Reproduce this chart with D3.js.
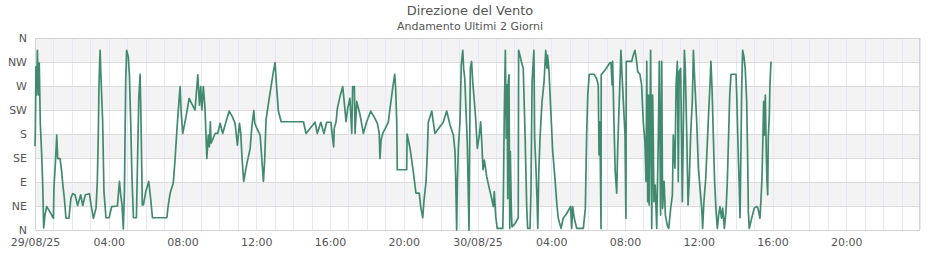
<!DOCTYPE html>
<html><head><meta charset="utf-8">
<script src="https://cdn.jsdelivr.net/npm/d3@7/dist/d3.min.js"></script>
<style>
html,body{margin:0;padding:0;background:#fff;}
svg{display:block;font-family:"DejaVu Sans",sans-serif;}
</style></head>
<body><svg id="c" width="940" height="260"></svg>
<script>
const chartTitle = "Direzione del Vento";
const chartSubtitle = "Andamento Ultimi 2 Giorni";
const startDate = "2025-08-29T00:00:00";
const spanHours = 48;
const yTickLabels = ["N","NE","E","SE","S","SW","W","NW","N"];
// hours since 29/08/25 00:00
const hours = [0,0.02,0.05,0.09,0.13,0.16,0.2,0.23,0.29,0.36,0.42,0.47,0.54,0.63,0.81,1.0,1.03,1.1,1.18,1.23,1.36,1.45,1.5,1.59,1.68,1.84,1.95,2.04,2.17,2.31,2.48,2.59,2.73,2.95,3.04,3.17,3.31,3.38,3.44,3.47,3.53,3.58,3.67,3.74,3.85,4.02,4.16,4.47,4.58,4.65,4.72,4.79,4.85,4.92,4.97,5.06,5.12,5.19,5.26,5.34,5.5,5.54,5.63,5.7,5.73,5.77,5.82,5.88,6.01,6.17,6.28,6.37,7.15,7.23,7.33,7.5,7.6,7.69,7.78,7.87,7.92,8.01,8.19,8.36,8.5,8.68,8.83,8.92,8.99,9.05,9.13,9.22,9.32,9.4,9.46,9.51,9.55,9.77,9.91,10.04,10.18,10.36,10.53,10.71,10.85,10.98,11.09,11.16,11.23,11.32,11.48,11.67,11.77,11.87,11.92,12.03,12.21,12.3,12.39,12.46,12.53,12.66,12.79,12.93,13.02,13.11,13.2,13.35,14.56,14.7,15.19,15.31,15.5,15.67,15.82,16.05,16.15,16.2,16.23,16.33,16.4,16.54,16.69,16.78,16.87,16.96,17.08,17.18,17.23,17.32,17.36,17.45,17.63,17.81,17.99,18.21,18.39,18.57,18.67,18.71,18.77,18.86,19.16,19.29,19.4,19.51,19.56,19.62,19.65,20.16,20.18,20.34,20.52,20.66,20.84,20.92,21.03,21.1,21.21,21.28,21.33,21.52,21.69,22.14,22.33,22.51,22.69,22.78,22.82,22.87,22.91,22.96,23.05,23.12,23.2,23.25,23.31,23.38,23.45,23.54,23.61,23.68,23.74,23.83,23.9,23.99,24.1,24.17,24.24,24.3,24.37,24.5,24.64,24.77,24.86,24.91,24.99,25.07,25.37,25.4,25.45,25.51,25.56,25.6,25.64,25.67,25.71,25.75,25.78,25.83,25.87,26.03,26.21,26.23,26.3,26.38,26.48,26.58,26.67,26.72,26.85,26.9,26.96,27.06,27.1,27.17,27.23,27.27,27.32,27.39,27.5,27.61,27.7,27.77,27.8,27.87,27.97,28.08,28.2,28.3,28.38,28.53,28.65,28.84,29.05,29.11,29.16,29.25,29.38,29.74,29.85,29.92,29.98,30.06,30.32,30.46,30.55,30.59,30.64,30.7,30.71,30.92,31.19,31.24,31.3,31.33,31.4,31.47,31.55,31.6,31.67,31.73,31.78,31.84,31.91,32.0,32.05,32.07,32.36,32.45,32.54,32.63,32.69,32.81,32.9,32.99,33.08,33.14,33.18,33.23,33.28,33.31,33.39,33.45,33.5,33.53,33.57,33.64,33.72,33.81,33.86,33.93,33.99,34.04,34.12,34.19,34.29,34.37,34.48,34.57,34.62,34.71,34.77,34.84,34.89,34.94,35.02,35.11,35.22,35.27,35.35,35.42,35.49,35.56,35.65,35.71,35.8,35.89,35.98,36.07,36.16,36.21,36.28,36.38,36.46,36.54,36.61,36.66,36.72,36.79,36.86,36.94,37.01,37.08,37.15,37.24,37.3,37.39,37.48,37.55,37.62,37.68,37.75,38.02,38.06,38.13,38.2,38.24,38.28,38.33,38.38,38.45,38.52,38.6,38.65,38.69,38.74,38.87,39.01,39.14,39.21,39.32,39.37,39.43,39.47,39.52,39.56,39.61,39.66,39.7,39.74,39.77,39.83,39.86,39.92];
// wind direction in degrees
const degrees = [157,187,306,253,337,291,253,313,197,144,84,4,28,44,34,22,81,122,178,134,134,109,88,60,22,22,60,68,66,46,66,46,66,68,47,22,41,91,191,272,337,284,203,72,23,23,44,45,91,66,47,2,72,278,337,325,291,203,97,23,23,91,247,292,240,159,47,47,72,91,56,23,23,47,69,88,134,184,228,269,225,181,212,247,237,225,291,234,269,225,269,228,134,178,156,203,163,181,181,200,181,203,223,212,200,159,200,181,134,91,122,153,197,224,200,191,178,134,91,134,206,237,266,297,314,266,223,203,203,181,202,181,202,181,202,202,169,156,191,203,228,250,269,237,203,228,247,181,269,269,181,241,216,181,203,223,212,200,181,134,169,181,202,237,266,292,266,203,113,113,180,153,109,69,69,44,23,56,91,147,202,223,181,202,223,197,178,147,91,0,91,153,203,309,337,303,284,222,159,0,303,316,278,241,209,153,178,203,159,113,131,100,78,59,44,72,25,3,3,53,209,337,172,272,59,278,291,3,147,47,6,12,23,337,328,316,303,178,41,3,3,72,278,337,172,116,56,3,103,172,241,278,337,303,328,303,228,147,97,50,22,3,22,31,44,3,44,22,3,3,41,178,253,292,292,284,272,141,203,3,291,300,314,314,272,316,203,109,69,147,222,284,337,291,241,178,22,316,316,328,337,316,297,292,272,203,166,91,316,53,253,47,337,3,253,178,53,84,3,178,316,28,316,41,91,28,9,3,41,66,178,116,272,316,91,297,303,53,337,303,178,47,97,178,241,337,266,203,116,78,41,3,53,97,159,222,272,316,266,178,91,34,3,28,44,22,41,3,37,91,178,253,292,292,253,159,78,23,128,266,337,325,303,241,141,34,3,22,41,44,41,22,53,97,159,241,178,253,147,91,66,172,216,272,316];

const W = 940, H = 260;
const m = {left:35, right:20, top:38, bottom:30};
const svg = d3.select("#c");
const t0 = new Date(startDate);
const t1 = new Date(t0.getTime() + spanHours*3600e3);
const x = d3.scaleTime().domain([t0, t1]).range([m.left, W - m.right]);
const y = d3.scaleLinear().domain([0, 360]).range([H - m.bottom, m.top]);
const data = hours.map((h,i)=>({t:new Date(t0.getTime()+h*3600e3), d:degrees[i]}));

// alternating bands
const bandEdges = d3.range(0, 360, 45);
svg.append("g").selectAll("rect").data(bandEdges.filter((v,i)=>i%2===1)).join("rect")
  .attr("x", m.left).attr("width", W - m.right - m.left)
  .attr("y", d=>y(d+45)).attr("height", d=>y(d)-y(d+45))
  .attr("fill", "#f3f3f3");

// vertical hourly grid
svg.append("g").selectAll("line").data(x.ticks(d3.timeHour.every(1))).join("line")
  .attr("x1", d=>Math.round(x(d))+0.5).attr("x2", d=>Math.round(x(d))+0.5)
  .attr("y1", m.top).attr("y2", H - m.bottom)
  .attr("stroke", "#e6e6f8").attr("stroke-width", 1);

// horizontal grid
svg.append("g").selectAll("line").data(d3.range(45, 360, 45)).join("line")
  .attr("x1", m.left).attr("x2", W - m.right)
  .attr("y1", d=>Math.round(y(d))+0.5).attr("y2", d=>Math.round(y(d))+0.5)
  .attr("stroke", "#dcdcdc");

// frame
svg.append("rect").attr("x", m.left+0.5).attr("y", Math.round(m.top)+0.5)
  .attr("width", W - m.right - m.left - 1).attr("height", H - m.bottom - m.top)
  .attr("fill", "none").attr("stroke", "#d3d3d3");

// line
svg.append("path").datum(data)
  .attr("d", d3.line().x(d=>x(d.t)).y(d=>y(d.d)))
  .attr("fill", "none").attr("stroke", "#418a6f").attr("stroke-width", 1.7)
  .attr("stroke-linejoin", "round");

// y axis labels
const yAxis = d3.axisLeft(y).tickValues(d3.range(0, 361, 45))
  .tickFormat((d,i)=>yTickLabels[i]).tickSize(0).tickPadding(8);
const gy = svg.append("g").attr("transform", `translate(${m.left},0)`).call(yAxis);
gy.select(".domain").remove();
gy.selectAll("text").attr("fill", "#555").style("font-size", "11px").style("font-family", "DejaVu Sans");

// x axis labels
const fmtDay = d3.timeFormat("%d/%m/%y"), fmtHour = d3.timeFormat("%H:%M");
const xAxis = d3.axisBottom(x).ticks(d3.timeHour.every(4))
  .tickFormat(d => d.getHours()===0 ? fmtDay(d) : fmtHour(d)).tickSize(0).tickPadding(8);
const gx = svg.append("g").attr("transform", `translate(0,${H - m.bottom})`).call(xAxis);
gx.select(".domain").remove();
gx.selectAll(".tick").filter(d=>+d===+t1).remove();
gx.selectAll("text").attr("fill", "#555").style("font-size", "11px").style("font-family", "DejaVu Sans");

// titles
svg.append("text").attr("x", W/2).attr("y", 15).attr("text-anchor", "middle")
  .attr("fill", "#555").style("font-size", "13px").text(chartTitle);
svg.append("text").attr("x", W/2).attr("y", 30).attr("text-anchor", "middle")
  .attr("fill", "#555").style("font-size", "11px").text(chartSubtitle);
</script></body></html>
